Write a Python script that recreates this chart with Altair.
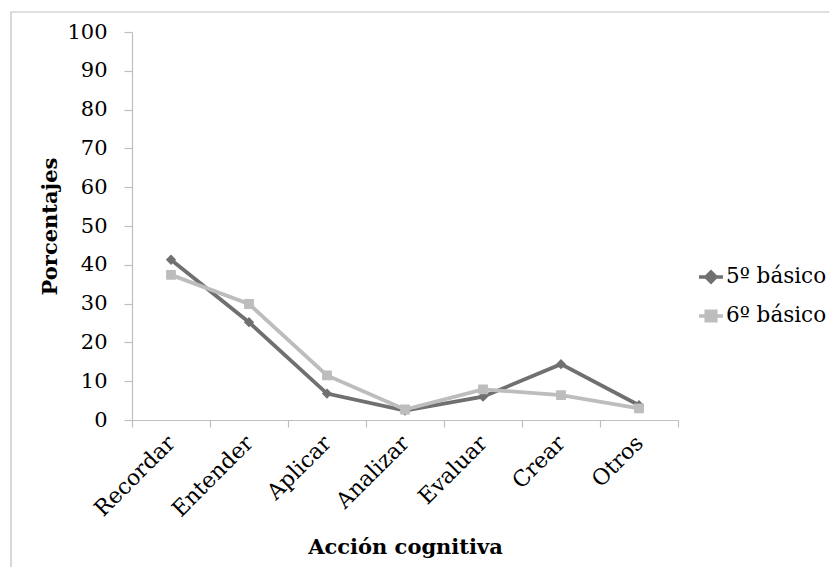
import altair as alt
import pandas as pd

# Acción cognitiva por curso (porcentajes)
categorias = ["Recordar", "Entender", "Aplicar", "Analizar", "Evaluar", "Crear", "Otros"]
series = ["5º básico", "6º básico"]
quinto = [41.3, 25.2, 6.8, 2.4, 6.0, 14.4, 3.8]
sexto = [37.4, 29.9, 11.5, 2.7, 7.9, 6.4, 3.0]
y_ticks = [0, 10, 20, 30, 40, 50, 60, 70, 80, 90, 100]

rows = []
for serie, valores in zip(series, [quinto, sexto]):
    for cat, v in zip(categorias, valores):
        rows.append({"accion": cat, "serie": serie, "pct": v})
df = pd.DataFrame(rows)

FONT = "DejaVu Serif"
colores = ["#707070", "#bdbdbd"]
# marker paths: a horizontal stroke (visible only where stroked, i.e. in the legend)
# plus a diamond / square body
formas = [
    "M-1,0H1M0,-0.42L0.42,0L0,0.42L-0.42,0Z",
    "M-1,0H1M-0.4,-0.4H0.4V0.4H-0.4Z",
]

x_enc = alt.X(
    "accion:N",
    sort=categorias,
    bandPosition=0.5,
    scale=alt.Scale(type="band", paddingInner=0, paddingOuter=0),
    axis=alt.Axis(
        title="Acción cognitiva",
        tickBand="extent",
        labelAngle=-45,
        labelAlign="right",
        labelBaseline="middle",
        labelPadding=12,
        labelFontSize=22,
        tickSize=7,
        titleX=273,
        titleY=127,
        titleBaseline="middle",
        titleAlign="center",
    ),
)
y_enc = alt.Y(
    "pct:Q",
    scale=alt.Scale(domain=[0, 100], nice=False),
    axis=alt.Axis(
        title="Porcentajes",
        values=y_ticks,
        grid=False,
        tickSize=8,
        labelPadding=17,
        titleX=-82,
        titleY=194,
        titleAlign="center",
        titleBaseline="middle",
    ),
)

leyenda = alt.Legend(
    title=None,
    orient="none",
    legendX=565,
    legendY=231,
    symbolSize=576,
    symbolStrokeWidth=3.5,
    labelOffset=1,
    rowPadding=12,
)

lineas = alt.Chart(df).mark_line(strokeWidth=3.8).encode(
    x=x_enc,
    y=y_enc,
    stroke=alt.Stroke("serie:N", sort=series, scale=alt.Scale(domain=series, range=colores), legend=leyenda),
    detail="serie:N",
)

puntos = alt.Chart(df).mark_point(filled=True, size=600, opacity=1, strokeWidth=0).encode(
    x=x_enc,
    y=y_enc,
    fill=alt.Fill("serie:N", sort=series, scale=alt.Scale(domain=series, range=colores), legend=leyenda),
    shape=alt.Shape("serie:N", sort=series, scale=alt.Scale(domain=series, range=formas), legend=leyenda),
)

marco = alt.Chart(pd.DataFrame({"k": [0]})).mark_rect(
    fill=None, stroke="#bfbfbf", strokeWidth=1.2
).encode(
    x=alt.value(-121), x2=alt.value(720), y=alt.value(-20), y2=alt.value(560)
)

chart = (
    alt.layer(marco, lineas, puntos)
    .properties(
        width=546,
        height=388,
        autosize=alt.AutoSizeParams(type="none"),
        padding={"left": 132, "top": 32, "right": 151, "bottom": 147},
    )
    .configure(background="white")
    .configure_view(stroke=None)
    .configure_axis(
        labelFont=FONT,
        labelFontSize=21,
        labelColor="black",
        titleFont=FONT,
        titleFontSize=21,
        titleFontWeight="bold",
        titleColor="black",
        domainColor="#bfbfbf",
        tickColor="#bfbfbf",
        domainWidth=1.2,
        tickWidth=1.2,
    )
    .configure_legend(
        labelFont=FONT,
        labelFontSize=21.5,
        labelColor="black",
    )
)

chart.save("out.html", embed_options={"renderer": "svg", "actions": False})
